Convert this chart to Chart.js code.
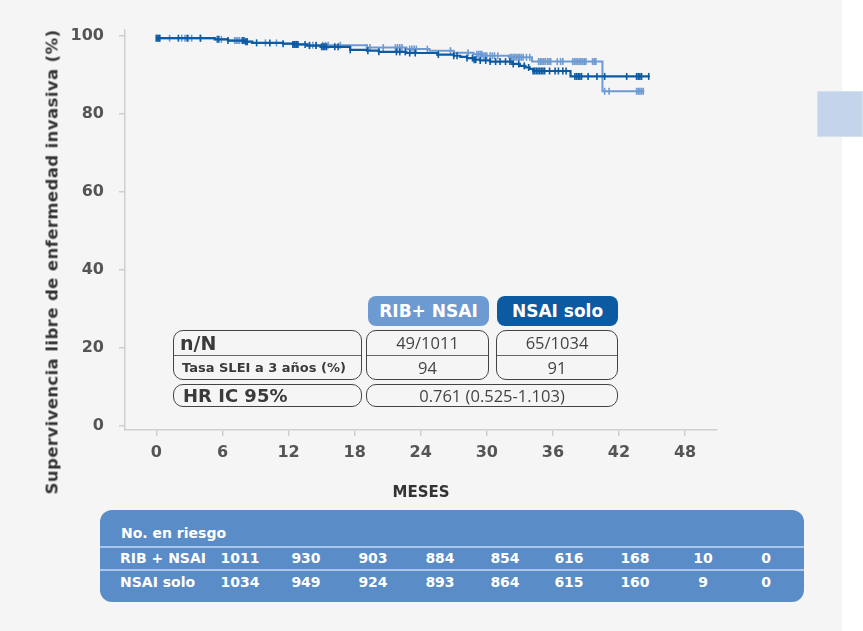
<!DOCTYPE html>
<html>
<head>
<meta charset="utf-8">
<script src="https://cdn.jsdelivr.net/npm/chart.js@4.4.1/dist/chart.umd.min.js"></script>
<style>
  html, body { margin: 0; padding: 0; background: #fff; }
  #wrap { position: relative; width: 863px; height: 631px; overflow: hidden; font-family: "Open Sans", sans-serif; }
  #bg { position: absolute; left: 0; top: 0; width: 842px; height: 631px; background: #f5f5f5; }
  #deco { position: absolute; left: 817px; top: 91px; width: 46px; height: 46px; background: #c4d4ea; border: 1px solid #d6e1f0; box-sizing: border-box; }
  canvas { position: absolute; left: 0; top: 0; }
  .abs { position: absolute; box-sizing: border-box; white-space: nowrap; }
  .bold { font-family: "DejaVu Sans", sans-serif; font-weight: 700; }
  #ytitle { left: 52px; top: 262px; transform: translate(-50%, -50%) rotate(-90deg); font-size: 16.5px; letter-spacing: 0.4px; color: #333; }
  .pill { height: 30px; line-height: 30px; border-radius: 8px; color: #fff; font-size: 17px; text-align: center; }
  .box { border: 1.5px solid #444; border-radius: 10px; }
  .cell { color: #444; font-size: 16.5px; text-align: center; }
  .lab { color: #3a3a3a; }
  #risk { left: 100px; top: 510px; width: 704px; height: 92px; background: #5a8cc8; border-radius: 12px; color: #fff; font-size: 14px; }
  .sep { position: absolute; left: 0; width: 704px; height: 2px; background: #a9c6ea; }
  .rv { position: absolute; transform: translate(-50%, -50%); }
  .rl { position: absolute; transform: translateY(-50%); }
</style>
</head>
<body>
<div id="wrap">
  <div id="bg"></div>
  <div id="deco"></div>
  <canvas id="km" width="863" height="631"></canvas>
  <div class="abs bold" id="ytitle">Supervivencia libre de enfermedad invasiva (%)</div>

  <div class="abs pill bold" style="left:368px;top:296px;width:121px;background:#6e9ad2;">RIB+ NSAI</div>
  <div class="abs pill bold" style="left:497px;top:296px;width:121px;background:#0c5aa2;">NSAI solo</div>

  <div class="abs box" style="left:173px;top:330px;width:189px;height:50px;"></div>
  <div class="abs box" style="left:366px;top:330px;width:123px;height:50px;"></div>
  <div class="abs box" style="left:496px;top:330px;width:122px;height:50px;"></div>
  <div class="abs" style="left:174px;top:355px;width:187px;height:1px;background:#666;"></div>
  <div class="abs" style="left:367px;top:355px;width:121px;height:1px;background:#666;"></div>
  <div class="abs" style="left:497px;top:355px;width:120px;height:1px;background:#666;"></div>
  <div class="abs box" style="left:173px;top:384px;width:189px;height:23px;"></div>
  <div class="abs box" style="left:366px;top:384px;width:252px;height:23px;"></div>

  <div class="abs lab bold" style="left:180px;top:331px;height:24px;line-height:24px;font-size:19px;">n/N</div>
  <div class="abs lab bold" style="left:182px;top:357px;height:22px;line-height:22px;font-size:13px;">Tasa SLEI a 3 años (%)</div>
  <div class="abs lab bold" style="left:183px;top:384px;height:23px;line-height:23px;font-size:18px;">HR IC 95%</div>

  <div class="abs cell" style="left:366px;top:331px;width:123px;line-height:24px;">49/1011</div>
  <div class="abs cell" style="left:366px;top:356px;width:123px;line-height:24px;">94</div>
  <div class="abs cell" style="left:496px;top:331px;width:122px;line-height:24px;">65/1034</div>
  <div class="abs cell" style="left:496px;top:356px;width:122px;line-height:24px;">91</div>
  <div class="abs cell" style="left:366px;top:384px;width:252px;line-height:23px;">0.761 (0.525-1.103)</div>

  <div class="abs bold" id="risk"></div>
</div>

<script>
// curva Kaplan-Meier: meses y supervivencia (%)
var ribTimes = [0, 5.3, 6.5, 8.0, 8.7, 11.5, 12.4, 13.7, 19.1, 22.7, 24.8, 27.0, 28.8, 29.6, 32.0, 34.1, 40.5, 44.3];
var ribSurv  = [99.4, 99.1, 98.8, 98.5, 98.2, 98.0, 97.8, 97.6, 97.0, 96.6, 96.2, 95.7, 95.3, 94.9, 94.5, 93.4, 85.8, 85.8];

var nsaiTimes = [0, 5.3, 6.5, 8.0, 8.7, 11.5, 12.4, 13.7, 14.9, 17.6, 19.1, 20.2, 22.7, 25.5, 27.0, 27.6, 28.2, 28.8, 29.4, 30.3, 32.3, 33.0, 33.5, 33.9, 34.2, 37.6, 44.8];
var nsaiSurv  = [99.4, 99.1, 98.8, 98.5, 98.2, 98.0, 97.8, 97.5, 97.2, 96.4, 96.2, 95.9, 95.6, 95.2, 94.9, 94.6, 94.3, 93.9, 93.7, 93.4, 92.8, 92.3, 91.9, 91.5, 91.0, 89.6, 89.6];

// censuras (meses)
var ribCensor = [0, 0.15, 0.3, 1.2, 2.3, 2.6, 2.9, 3.2, 4.0, 5.5, 5.7, 5.9, 7.1, 7.25, 7.4, 7.55, 8.2, 9.9, 10.9, 12.4, 12.6, 12.8, 13.9, 14.2, 14.5, 15.1, 15.35, 15.6, 16.7, 19.1, 19.4, 20.6, 21.7, 21.9, 22.1, 22.3, 23.0, 23.2, 23.4, 23.6, 24.6, 26.7, 28.3, 29.1, 29.25, 29.4, 29.55, 29.7, 29.85, 30.0, 30.3, 30.5, 30.7, 31.0, 32.1, 32.25, 32.4, 32.55, 32.7, 32.85, 33.0, 33.15, 33.3, 33.6, 33.9, 34.7, 34.85, 35.0, 35.15, 35.3, 35.5, 35.65, 35.8, 36.4, 36.7, 36.9, 37.8, 37.95, 38.1, 38.25, 38.4, 38.55, 38.7, 38.85, 39.0, 39.6, 39.75, 39.9, 40.7, 41.1, 43.6, 43.75, 43.9, 44.05, 44.2];
var nsaiCensor = [0, 0.15, 0.3, 2.0, 2.8, 4.0, 5.6, 6.5, 7.8, 7.95, 8.1, 8.25, 9.1, 10.3, 11.5, 12.4, 12.55, 12.7, 12.85, 13.5, 13.9, 14.5, 15.0, 15.15, 15.3, 15.45, 16.2, 16.5, 17.6, 19.2, 20.2, 21.8, 22.1, 22.6, 23.0, 23.5, 25.6, 27.0, 27.3, 28.2, 28.7, 28.85, 29.0, 29.4, 29.9, 30.3, 30.8, 31.2, 31.7, 32.1, 32.4, 32.9, 33.4, 33.8, 34.2, 34.35, 34.5, 34.65, 34.8, 34.95, 35.1, 35.25, 35.7, 36.2, 36.5, 36.9, 37.2, 38.0, 38.15, 38.3, 38.45, 38.6, 39.2, 40.0, 40.7, 42.7, 43.6, 43.75, 43.9, 44.05, 44.7];

var xTicks = [0, 6, 12, 18, 24, 30, 36, 42, 48];
var yTicks = [0, 20, 40, 60, 80, 100];

// numero en riesgo
var riskLabels = ["RIB + NSAI", "NSAI solo"];
var riskRib  = [1011, 930, 903, 884, 854, 616, 168, 10, 0];
var riskNsai = [1034, 949, 924, 893, 864, 615, 160, 9, 0];
var riskCols = [240, 306, 373, 440, 505, 569, 635, 703, 766];

var lightBlue = "#6e9ad2";
var darkBlue = "#0c5aa2";

function survAt(times, surv, t) {
  var s = surv[0];
  for (var i = 0; i < times.length; i++) {
    if (times[i] <= t) s = surv[i];
  }
  return s;
}

function curve(times, surv) {
  return times.map(function (t, i) { return { x: t, y: surv[i] }; });
}

function censorPts(times, surv, cens) {
  return cens.map(function (t) { return { x: t, y: survAt(times, surv, t) }; });
}

var tickFont = { family: "DejaVu Sans", size: 16, weight: "bold" };

new Chart(document.getElementById("km").getContext("2d"), {
  type: "scatter",
  data: {
    datasets: [
      {
        label: "RIB+ NSAI",
        data: curve(ribTimes, ribSurv),
        showLine: true,
        stepped: true,
        borderColor: lightBlue,
        borderWidth: 2,
        pointRadius: 0,
        order: 4
      },
      {
        label: "RIB+ NSAI censura",
        data: censorPts(ribTimes, ribSurv, ribCensor),
        pointStyle: "line",
        rotation: 90,
        pointRadius: 3.5,
        pointBorderWidth: 1.6,
        borderColor: lightBlue,
        backgroundColor: lightBlue,
        order: 3
      },
      {
        label: "NSAI solo",
        data: curve(nsaiTimes, nsaiSurv),
        showLine: true,
        stepped: true,
        borderColor: darkBlue,
        borderWidth: 2.2,
        pointRadius: 0,
        order: 2
      },
      {
        label: "NSAI solo censura",
        data: censorPts(nsaiTimes, nsaiSurv, nsaiCensor),
        pointStyle: "line",
        rotation: 90,
        pointRadius: 3.5,
        pointBorderWidth: 1.6,
        borderColor: darkBlue,
        backgroundColor: darkBlue,
        order: 1
      }
    ]
  },
  options: {
    responsive: false,
    animation: false,
    layout: { padding: { left: 0, top: 30, right: 146, bottom: 121 } },
    plugins: { legend: { display: false }, tooltip: { enabled: false } },
    scales: {
      x: {
        type: "linear",
        min: -2.85,
        max: 50.9,
        afterBuildTicks: function (s) { s.ticks = xTicks.map(function (v) { return { value: v }; }); },
        afterFit: function (s) { s.height = 80; },
        ticks: { font: tickFont, color: "#555", padding: 7, autoSkip: false, maxRotation: 0 },
        grid: { drawOnChartArea: false, tickLength: 6, color: "#cfcfcf", lineWidth: 1.5 },
        border: { color: "#cfcfcf", width: 1.5 },
        title: { display: true, text: "MESES", color: "#333", font: { family: "DejaVu Sans", size: 15, weight: "bold" }, padding: { top: 8, bottom: 8 } }
      },
      y: {
        min: -1,
        max: 101.5,
        afterBuildTicks: function (s) { s.ticks = yTicks.map(function (v) { return { value: v }; }); },
        afterFit: function (s) { s.width = 125; },
        ticks: { font: tickFont, color: "#555", padding: 15 },
        grid: { drawOnChartArea: false, tickLength: 6, color: "#cfcfcf", lineWidth: 1.5 },
        border: { color: "#cfcfcf", width: 1.5 }
      }
    }
  }
});

// tabla de numero en riesgo
var risk = document.getElementById("risk");
function addEl(cls, text, x, y) {
  var d = document.createElement("div");
  d.className = cls;
  d.textContent = text;
  d.style.left = x + "px";
  d.style.top = y + "px";
  risk.appendChild(d);
}
addEl("rl", "No. en riesgo", 21, 23);
var s1 = document.createElement("div"); s1.className = "sep"; s1.style.top = "36px"; risk.appendChild(s1);
var s2 = document.createElement("div"); s2.className = "sep"; s2.style.top = "59px"; risk.appendChild(s2);
addEl("rl", riskLabels[0], 20, 48);
addEl("rl", riskLabels[1], 20, 72);
for (var i = 0; i < riskCols.length; i++) {
  addEl("rv", riskRib[i], riskCols[i] - 100, 48);
  addEl("rv", riskNsai[i], riskCols[i] - 100, 72);
}
</script>
</body>
</html>
